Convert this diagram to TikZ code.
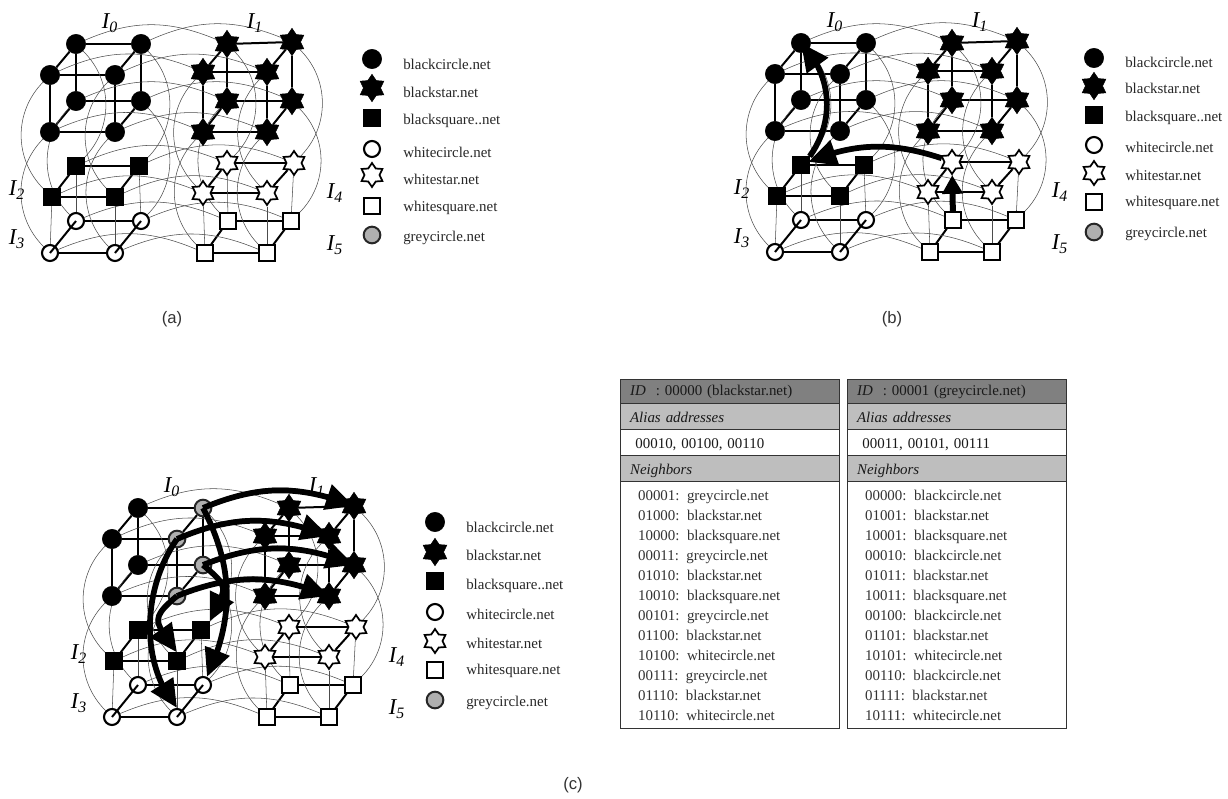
\documentclass[tikz,border=0pt]{standalone}
\usepackage{fontspec}
\setmainfont{Liberation Serif}
\setsansfont{Liberation Sans}
\usetikzlibrary{arrows.meta,bending,shapes.geometric,backgrounds}
\definecolor{headgrey}{RGB}{128,128,128}
\definecolor{rowgrey}{RGB}{190,190,190}
\definecolor{nodegrey}{RGB}{175,175,175}

\tikzset{
  blackdot/.style={circle, fill=black, draw=black, inner sep=0pt, minimum size=14.5pt},
  blackstar/.style={star, star points=6, star point ratio=1.6, fill=black, draw=black,
    inner sep=0pt, minimum size=20.5pt},
  blacksq/.style={rectangle, fill=black, draw=black, inner sep=0pt, minimum size=12.5pt},
  whitedot/.style={circle, fill=white, draw=black, line width=1.6pt, inner sep=0pt, minimum size=12pt},
  whitestar/.style={star, star points=6, star point ratio=1.6, fill=white, draw=black,
    line width=1.3pt, inner sep=0pt, minimum size=18pt},
  whitesq/.style={rectangle, fill=white, draw=black, line width=1.3pt, inner sep=0pt, minimum size=11.5pt},
  greydot/.style={circle, fill=nodegrey, draw=black!85, line width=1.5pt, inner sep=0pt, minimum size=12.5pt},
  linkline/.style={line width=1.5pt},
  longarc/.style={line width=0.4pt, black!70},
  arr/.style={-{Triangle[length=21pt,width=19pt]}, line width=4.3pt},
  lgd/.style={anchor=west, inner sep=0pt, font=\fontsize{11.2}{13}\selectfont, text=black!85},
  idx/.style={inner sep=0pt, font=\fontsize{17}{17}\selectfont\itshape},
  captxt/.style={inner sep=0pt, font=\fontsize{12.5}{14}\selectfont\sffamily, text=black!80},
  row/.style={anchor=north west, draw=black!80, line width=1.1pt, inner ysep=0pt, inner xsep=7pt,
    text width=150pt, align=left, font=\fontsize{11.2}{15}\selectfont, text=black!90},
  onerow/.style={row, minimum height=19.5pt, text height=8pt, text depth=0pt}
}

% one set of six interfaces, #3 is the style of the four marked nodes
\newcommand{\netgrid}[3]{
\begin{scope}[shift={#2}]
  \foreach \n/\x/\y in {c1/76/44,c3/50/75,c5/76/101,c7/50/132}
    \node[blackdot] (#1\n) at (\x,\y) {};
  \foreach \n/\x/\y in {c2/141/44,c4/115/75,c6/141/101,c8/115/132}
    \node[#3] (#1\n) at (\x,\y) {};
  \foreach \n/\x/\y in {s1/227/44,s2/292/42,s3/203/72,s4/267/72,s5/227/101,s6/292/101,s7/203/132,s8/267/132}
    \node[blackstar] (#1\n) at (\x,\y) {};
  \foreach \n/\x/\y in {q1/76/166,q2/139/166,q3/52/197,q4/115/197}
    \node[blacksq] (#1\n) at (\x,\y) {};
  \foreach \n/\x/\y in {w1/76/221,w2/141/221,w3/50/253,w4/115/253}
    \node[whitedot] (#1\n) at (\x,\y) {};
  \foreach \n/\x/\y in {t1/227/163,t2/294/163,t3/203/193,t4/267/193}
    \node[whitestar] (#1\n) at (\x,\y) {};
  \foreach \n/\x/\y in {u1/228/221,u2/291/221,u3/205/253,u4/267/253}
    \node[whitesq] (#1\n) at (\x,\y) {};
  \begin{scope}[on background layer]
    % links inside each interface
    \foreach \a/\b in {c1/c2,c3/c4,c1/c3,c2/c4,c5/c6,c7/c8,c5/c7,c6/c8,c1/c5,c2/c6,c3/c7,c4/c8,
        s1/s2,s3/s4,s1/s3,s2/s4,s5/s6,s7/s8,s5/s7,s6/s8,s1/s5,s2/s6,s3/s7,s4/s8,
        q1/q2,q3/q4,q1/q3,q2/q4,w1/w2,w3/w4,t1/t2,t3/t4,t1/t3,t2/t4,u1/u2,u3/u4,u1/u3,u2/u4}
      \draw[linkline] (#1\a) -- (#1\b);
    % long links
    \foreach \a/\b in {c1/s1,c2/s2,c3/s3,c4/s4,c5/s5,c6/s6,c7/s7,c8/s8,
        q1/t1,q2/t2,q3/t3,q4/t4,w1/u1,w2/u2,w3/u3,w4/u4}
      \draw[longarc] (#1\a) to[bend left=23] (#1\b);
    \foreach \a/\b in {c1/q1,c2/q2,c6/w2,s1/t1,s2/t2,s6/u2}
      \draw[longarc] (#1\a) to[bend left=45] (#1\b);
    \foreach \a/\b in {c3/q3,c4/q4,c5/w1,c7/w3,c8/w4,s3/t3,s4/t4,s5/u1,s7/u3,s8/u4}
      \draw[longarc] (#1\a) to[bend right=45] (#1\b);
    \foreach \a/\b in {q1/w1,q2/w2,q3/w3,q4/w4,t1/u1,t2/u2,t3/u3,t4/u4}
      \draw[longarc] (#1\a) -- (#1\b);
  \end{scope}
  \draw[linkline] (#1w1.center) -- (#1w3.center);
  \draw[linkline] (#1w2.center) -- (#1w4.center);
  \node[idx] (#1i0) at (110,23) {I\textsubscript{0}};
  \node[idx] (#1i1) at (255,23) {I\textsubscript{1}};
  \node[idx] (#1i2) at (17,190) {I\textsubscript{2}};
  \node[idx] (#1i3) at (17,239) {I\textsubscript{3}};
  \node[idx] (#1i4) at (335,193) {I\textsubscript{4}};
  \node[idx] (#1i5) at (335,245) {I\textsubscript{5}};
\end{scope}
}

% one routing table, #2 is its left edge
\newcommand{\nettable}[5]{
  \node[row, fill=headgrey, minimum height=18pt] (#1head) at (#2,379) {#3};
  \node[onerow, fill=rowgrey] (#1alias) at (#2,403) {\textit{Alias addresses}};
  \node[onerow, fill=white] (#1addr) at (#2,429) {\hspace*{4pt}#4};
  \node[onerow, fill=rowgrey] (#1nbt) at (#2,455) {\textit{Neighbors}};
  \node[row, fill=white, minimum height=185pt, inner xsep=13pt, text width=138pt, text=black!80] (#1nb) at (#2,481) {#5};
}

\begin{document}
\begin{tikzpicture}[x=0.75pt, y=-0.75pt]
\useasboundingbox (0,0) rectangle (1228,799);

\netgrid{a}{(0,0)}{blackdot}
\netgrid{b}{(725,-1)}{blackdot}
\netgrid{c}{(62,464)}{greydot}

% legends
\foreach \st/\txt/\my/\ly [count=\i] in {blackdot/blackcircle.net/59/64,blackstar/blackstar.net/88/92,
    blacksq/{blacksquare..net}/118/121,whitedot/whitecircle.net/149/152,whitestar/whitestar.net/175/179,
    whitesq/whitesquare.net/206/208,greydot/greycircle.net/235/238}{
  \node[\st] (am\i) at (372,\my) {};
  \node[lgd] (al\i) at (403,\ly) {\txt};
}
\foreach \st/\txt/\my/\ly [count=\i] in {blackdot/blackcircle.net/58/62,blackstar/blackstar.net/86/88,
    blacksq/{blacksquare..net}/115/118,whitedot/whitecircle.net/145/147,whitestar/whitestar.net/173/175,
    whitesq/whitesquare.net/202/203,greydot/greycircle.net/232/234}{
  \node[\st] (bm\i) at (1094,\my) {};
  \node[lgd] (bl\i) at (1125,\ly) {\txt};
}
\foreach \st/\txt/\my/\ly [count=\i] in {blackdot/blackcircle.net/522/527,blackstar/blackstar.net/552/555,
    blacksq/{blacksquare..net}/581/586,whitedot/whitecircle.net/612/614,whitestar/whitestar.net/641/643,
    whitesq/whitesquare.net/670/671,greydot/greycircle.net/700/703}{
  \node[\st] (cm\i) at (435,\my) {};
  \node[lgd] (cl\i) at (466,\ly) {\txt};
}

% routes of panel b
\draw[arr] (bq1.north east) to[bend right=40] (bc1.center);
\draw[arr, shorten >=6pt] (bt1) to[bend right=21] (bq1.center);
\draw[arr, -{Triangle[length=14pt,width=15pt]}, line width=4.5pt] (bu1) -- (bt1);

% routes of panel c
\foreach \a/\b in {c2/s2,c4/s4,c6/s6,c8/s8}
  \draw[arr] (c\a.center) to[bend left=22] (c\b.center);
\draw[arr] (cc2.center) to[bend left=26] (cw2);
\draw[arr] (cc4.center) to[out=-125, in=130, looseness=0.9] (cw4.north);
\draw[arr] (cc6.center) to[out=-40, in=65, looseness=1.7] (cq2.north east);
\draw[arr] (cc8.center) to[out=-140, in=125, looseness=1.7] (cq4.north);

\node[captxt] (capa) at (172,319) {(a)};
\node[captxt] (capb) at (892,319) {(b)};
\node[captxt] (capc) at (573,785) {(c)};

\nettable{l}{620}{\textit{ID}\ \ : 00000 (blackstar.net)}{00010, 00100, 00110}{%
  00001: greycircle.net\\01000: blackstar.net\\10000: blacksquare.net\\00011: greycircle.net\\
  01010: blackstar.net\\10010: blacksquare.net\\00101: greycircle.net\\01100: blackstar.net\\
  10100: whitecircle.net\\00111: greycircle.net\\01110: blackstar.net\\10110: whitecircle.net}
\nettable{r}{847}{\textit{ID}\ \ : 00001 (greycircle.net)}{00011, 00101, 00111}{%
  00000: blackcircle.net\\01001: blackstar.net\\10001: blacksquare.net\\00010: blackcircle.net\\
  01011: blackstar.net\\10011: blacksquare.net\\00100: blackcircle.net\\01101: blackstar.net\\
  10101: whitecircle.net\\00110: blackcircle.net\\01111: blackstar.net\\10111: whitecircle.net}
\end{tikzpicture}
\end{document}
